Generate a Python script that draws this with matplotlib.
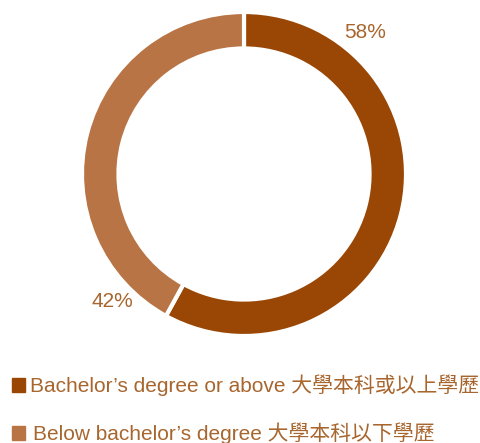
import matplotlib
matplotlib.use("Agg")
import matplotlib.pyplot as plt
from matplotlib.patches import Rectangle

labels = ["Bachelor’s degree or above 大學本科或以上學歷", "Below bachelor’s degree 大學本科以下學歷"]
shares = [58, 42]
colors = ["#9A4705", "#B87444"]
text_color = "#A8662F"

plt.rcParams["font.family"] = ["Liberation Sans", "Noto Sans CJK TC"]

W, H = 481, 443
fig = plt.figure(figsize=(W / 100, H / 100), dpi=100)

cx, cy, r = 244, 174, 162
ax = fig.add_axes([(cx - r) / W, (H - cy - r) / H, 2 * r / W, 2 * r / H])
ax.pie(shares, colors=colors, startangle=90, counterclock=False, radius=1,
       wedgeprops=dict(width=0.225, edgecolor="white", linewidth=3))
ax.set_xlim(-1, 1)
ax.set_ylim(-1, 1)
ax.set_aspect("equal")
ax.axis("off")

# percentage labels
label_pos = [(0.75, 0.875), (-0.815, -0.79)]
for (x, y), s in zip(label_pos, shares):
    ax.text(x, y, f"{s}%", ha="center", va="center", fontsize=15, color=text_color)

# legend
leg_y = [385, 433]
leg_tx = [30, 33]
for i, (lab, c) in enumerate(zip(labels, colors)):
    y = leg_y[i]
    fig.add_artist(Rectangle((12 / W, (H - y - 7) / H), 13 / W, 14 / H,
                             transform=fig.transFigure, color=c))
    fig.text(leg_tx[i] / W, (H - y) / H, lab, ha="left", va="center",
             fontsize=15, color=text_color)

fig.savefig("out.png", dpi=100)
